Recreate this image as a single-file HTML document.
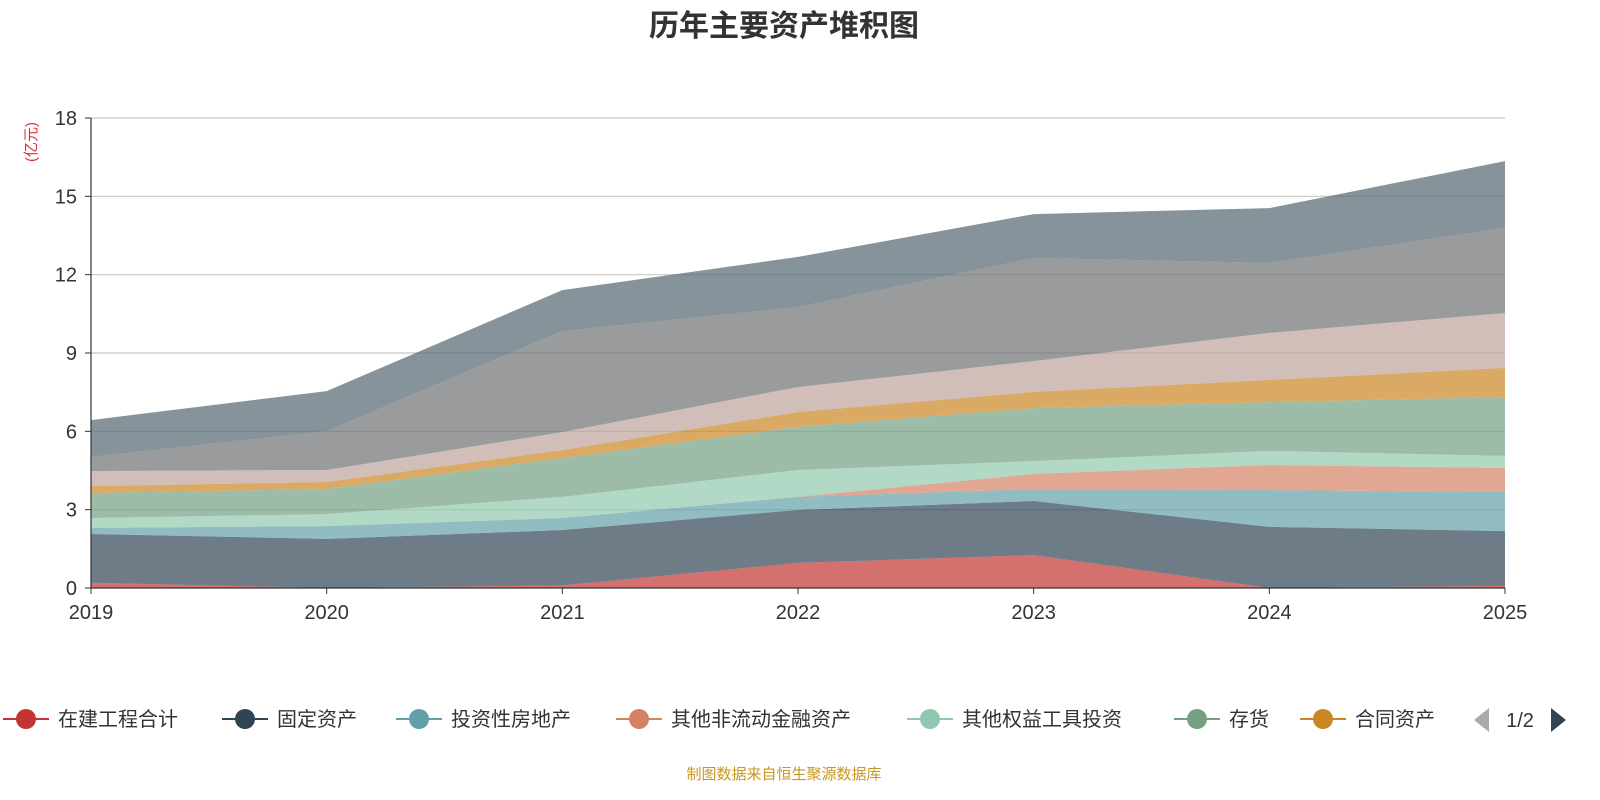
<!DOCTYPE html>
<html><head><meta charset="utf-8">
<style>
html,body{margin:0;padding:0;background:#fff;width:1600px;height:800px;overflow:hidden;font-family:"Liberation Sans","Noto Sans CJK SC",sans-serif;}
</style></head>
<body>
<svg id="chart" width="1600" height="800" xmlns="http://www.w3.org/2000/svg">
<text x="784" y="36" text-anchor="middle" font-size="30" font-weight="bold" fill="#333" font-family="Liberation Sans, Noto Sans CJK SC, sans-serif">历年主要资产堆积图</text>
<text transform="translate(36,142) rotate(-90)" text-anchor="middle" font-size="15" fill="#e03030" font-family="Liberation Sans, Noto Sans CJK SC, sans-serif">(亿元)</text>
<g id="grid"></g><g id="areas"></g><g id="axes"></g><g id="legend"></g>
<text x="784" y="779" text-anchor="middle" font-size="15" fill="#c8961e" font-family="Liberation Sans, Noto Sans CJK SC, sans-serif">制图数据来自恒生聚源数据库</text>
</svg>
<script>
const categories=['2019','2020','2021','2022','2023','2024','2025'];
const yTicks=[0,3,6,9,12,15,18];
const seriesNames=['在建工程合计','固定资产','投资性房地产','其他非流动金融资产','其他权益工具投资','存货','合同资产','其他资产A','其他资产B','其他资产C'];
const sRed=[0.2,0,0.1,0.96,1.26,0,0.08];
const sFixed=[1.87,1.88,2.12,2.03,2.07,2.34,2.10];
const sTeal=[0.23,0.49,0.46,0.50,0.46,1.41,1.50];
const sSalmon=[0,0,0,0,0.58,0.96,0.92];
const sLightGreen=[0.38,0.46,0.81,1.03,0.49,0.54,0.46];
const sGreen=[0.96,0.96,1.49,1.65,2.03,1.87,2.25];
const sOrange=[0.26,0.27,0.30,0.57,0.62,0.85,1.12];
const sBeige=[0.58,0.46,0.69,0.96,1.18,1.80,2.10];
const sGray=[0.54,1.49,3.87,3.06,3.95,2.68,3.26];
const sTop=[1.41,1.53,1.57,1.92,1.68,2.10,2.56];
const allSeries=[sRed,sFixed,sTeal,sSalmon,sLightGreen,sGreen,sOrange,sBeige,sGray,sTop];
const colors=['#c23531','#2f4554','#61a0a8','#d48265','#91c7ae','#749f83','#ca8622','#bda29a','#6e7074','#546570'];
const NS='http://www.w3.org/2000/svg';
const x0=91,x1=1505,y0=588,y1=118,ymax=18;
const xS=i=>x0+(x1-x0)*i/(categories.length-1);
const yS=v=>y0-(y0-y1)*v/ymax;
function mk(t,a,p){const e=document.createElementNS(NS,t);for(const k in a)e.setAttribute(k,a[k]);p.appendChild(e);return e;}
const grid=document.getElementById('grid'),axes=document.getElementById('axes'),areas=document.getElementById('areas'),legend=document.getElementById('legend');
yTicks.forEach(t=>{
 if(t>0){const l=mk('line',{x1:x0,x2:x1,y1:yS(t),y2:yS(t),stroke:'#c8c8c8','stroke-width':1.2},grid);
 
 }
 const tx=mk('text',{x:x0-14,y:yS(t)+7,'text-anchor':'end','font-size':20,fill:'#333'},axes);tx.textContent=t;
 
 
 mk('line',{x1:x0-6,x2:x0,y1:yS(t),y2:yS(t),stroke:'#333'},axes);
});
let cum=categories.map(()=>0);
allSeries.forEach((s,k)=>{
 const low=cum.slice();const high=cum.map((c,i)=>c+s[i]);
 let d='M'+high.map((v,i)=>xS(i)+','+yS(v)).join(' L');
 for(let i=low.length-1;i>=0;i--)d+=' L'+xS(i)+','+yS(low[i]);
 const p=mk('path',{d:d+'Z',fill:colors[k],'fill-opacity':0.7,stroke:'none'},areas);
 
 
 cum=high;
});
mk('line',{x1:x0,x2:x0,y1:y1,y2:y0,stroke:'#333','stroke-width':1.2},axes);
mk('line',{x1:x0,x2:x1,y1:y0,y2:y0,stroke:'#333','stroke-width':1.2},axes);
categories.forEach((c,i)=>{
 mk('line',{x1:xS(i),x2:xS(i),y1:y0,y2:y0+6,stroke:'#333'},axes);
 const t=mk('text',{x:xS(i),y:y0+31,'text-anchor':'middle','font-size':20,fill:'#333'},axes);t.textContent=c;
 
 
});
const legX=[3,222,396,616,907,1174,1300];
for(let k=0;k<7;k++){
 const g=mk('g',{},legend);
 
 
 const x=legX[k];
 mk('line',{x1:x,x2:x+46,y1:719,y2:719,stroke:colors[k],'stroke-width':2},g);
 mk('circle',{cx:x+23,cy:719,r:10,fill:colors[k]},g);
 const t=mk('text',{x:x+55,y:726,'font-size':20,fill:'#333'},g);t.textContent=seriesNames[k];
}
const pl=mk('path',{d:'M1489,708 L1489,732 L1474,720Z',fill:'#aaa'},legend);


const pt=mk('text',{x:1520,y:727,'text-anchor':'middle','font-size':20,fill:'#333'},legend);pt.textContent='1/2';


const pn=mk('path',{d:'M1551,708 L1551,732 L1566,720Z',fill:'#2f4554'},legend);


</script>
</body></html>
